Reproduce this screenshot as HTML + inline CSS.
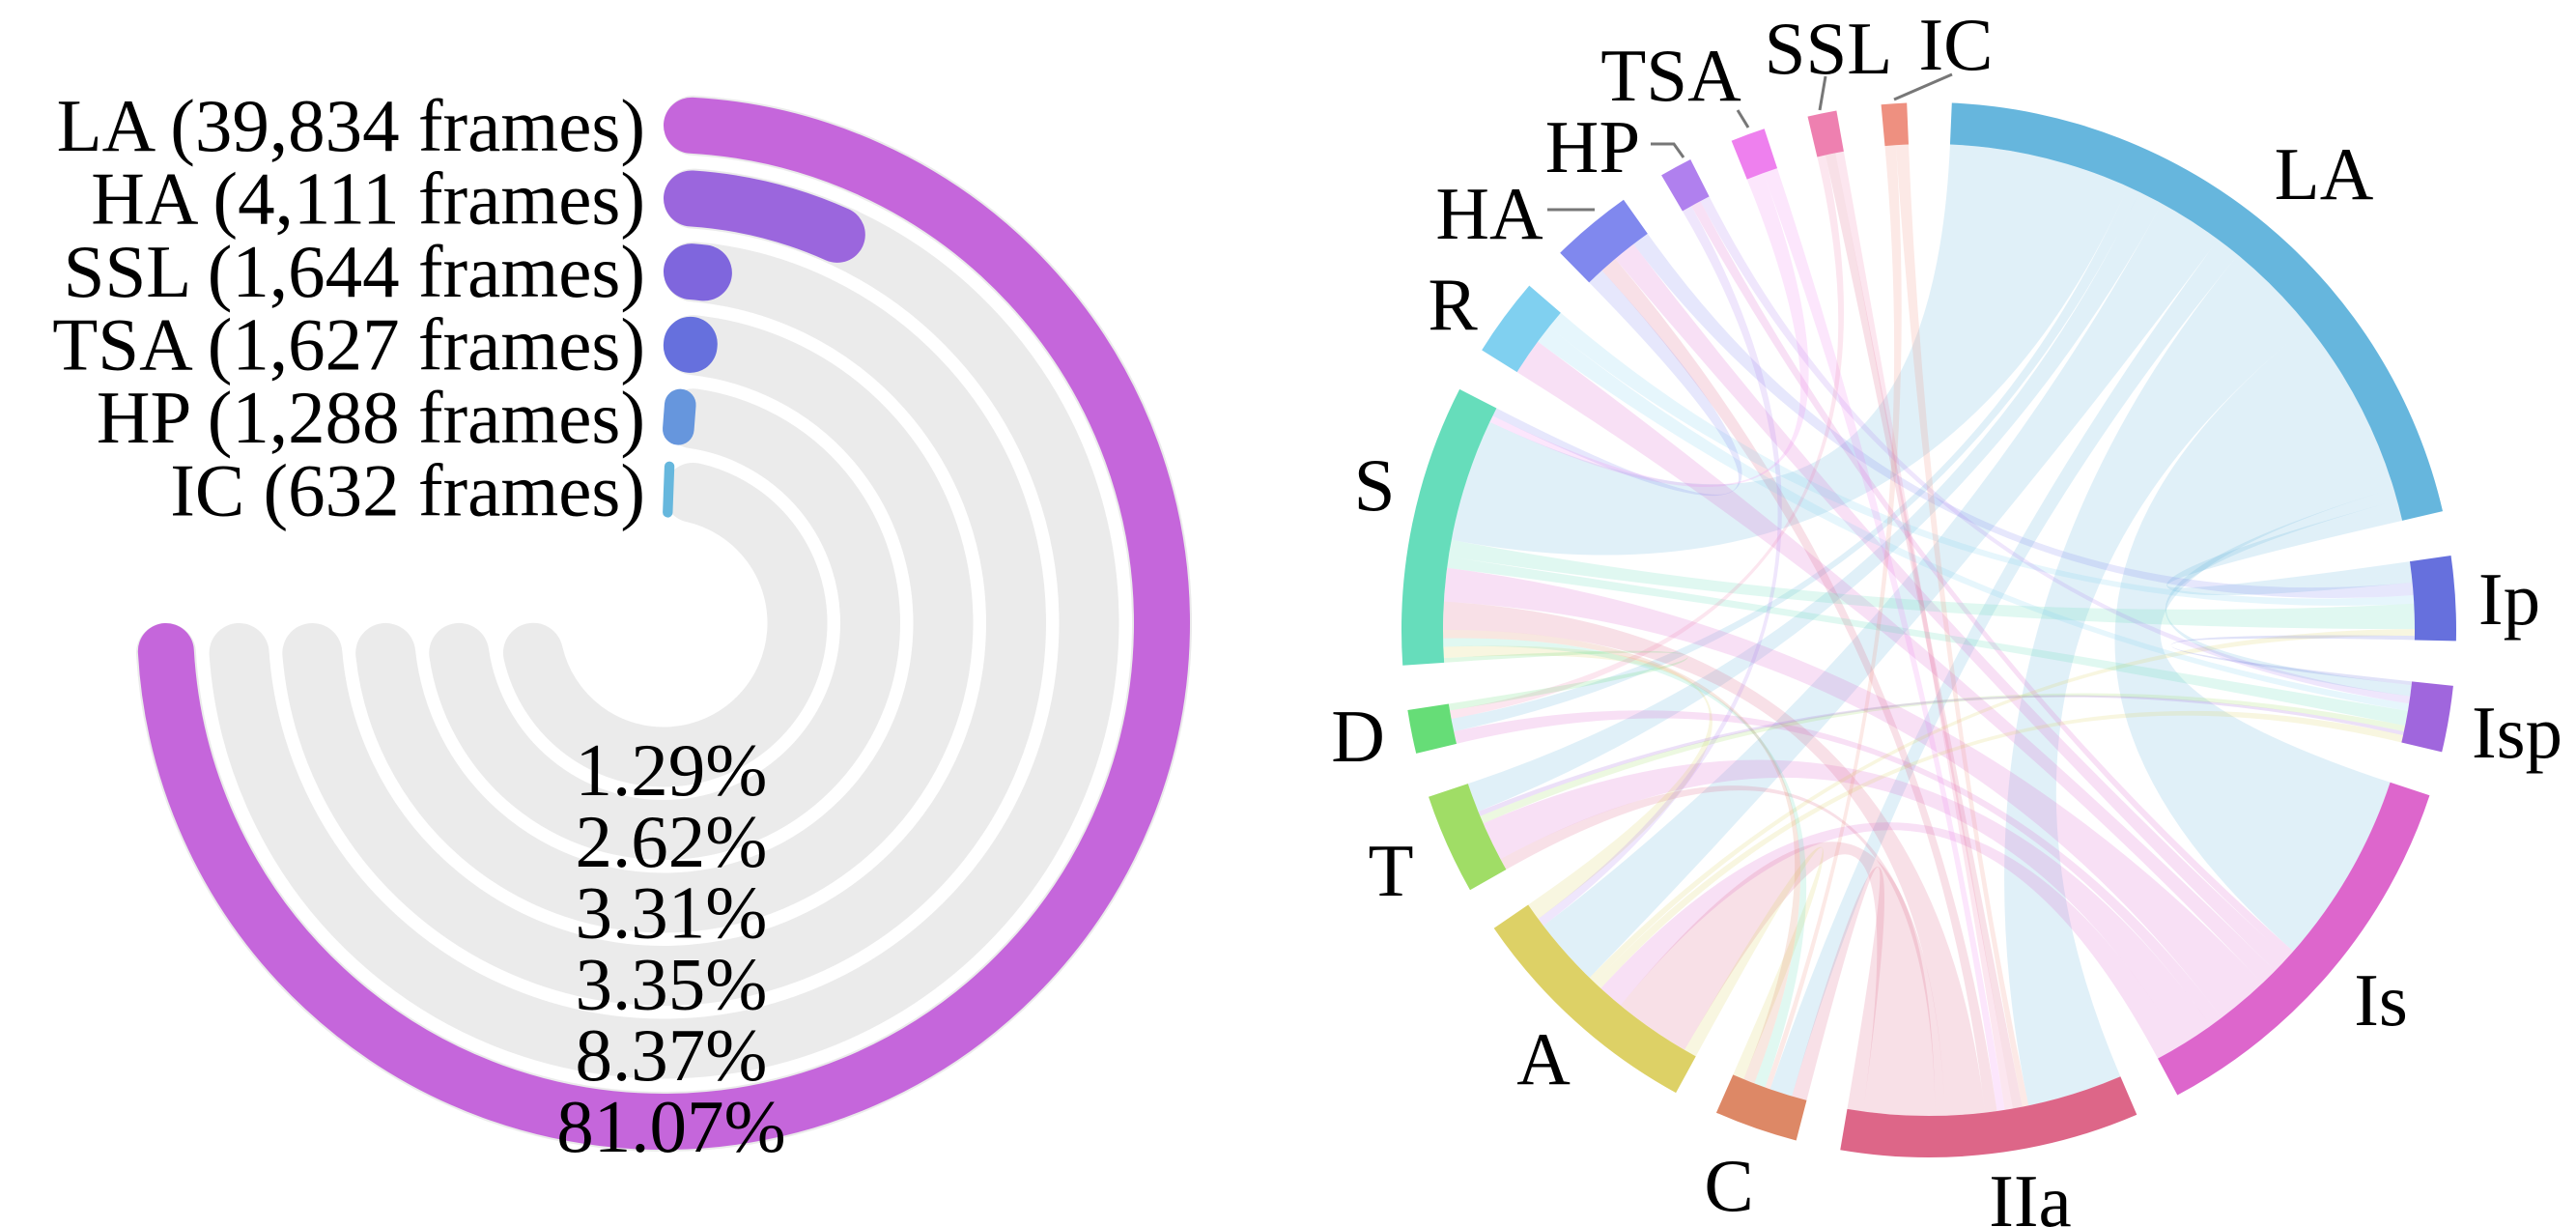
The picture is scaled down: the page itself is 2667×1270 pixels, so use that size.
<!DOCTYPE html>
<html><head><meta charset="utf-8"><style>
html,body{margin:0;padding:0;background:#fff;}
svg{display:block;}
svg text{font-family:"Liberation Serif","Times New Roman","DejaVu Serif",serif;}
</style></head><body>
<svg id="chart" width="2667" height="1270" viewBox="0 0 2667 1270" xmlns="http://www.w3.org/2000/svg" font-family="Liberation Serif, Times New Roman, serif">
<g id="radial"></g>
<g id="chord"></g>
</svg>
<script>
// ---------- Radial bar data ----------
const radialNames = ["LA","HA","SSL","TSA","HP","IC"];
const radialFrames = [39834,4111,1644,1627,1288,632];
const radialPercents = ["81.07%","8.37%","3.35%","3.31%","2.62%","1.29%"];
const radialColors = ["#c566db","#9b66dd","#7f66dd","#6670dd","#6696dd","#66b7dd"];

// ---------- Chord data ----------
const chordGroups = ["LA","Ip","Isp","Is","IIa","C","A","T","D","S","R","HA","HP","TSA","SSL","IC"];
const chordSizes = [74.5,9.3,7.3,43.6,32.9,9.2,26.9,11.1,4.8,31,8.7,9,3.6,3.8,3.2,2.8];
const chordColors = ["#66b6dd","#6670dd","#a066dd","#dd66cc","#dd6688","#dd8866","#ddd166","#a0dd66","#66dd77","#66ddbb","#80d0f0","#8088ee","#b080ee","#ee80ee","#ee80b0","#ee9080"];
const linkSource = ["LA","LA","LA","LA","LA","LA","LA","LA","LA","Is","Is","Is","Is","Is","Is","Is","IIa","IIa","IIa","IIa","IIa","IIa","A","A","A","A","S","S","S","R","R","HA","HA","HP","HP","TSA","TSA","SSL","SSL","IC","IC","T","D","C","Ip","Isp"];
const linkTarget = ["S","Is","IIa","A","C","T","D","Ip","Isp","S","T","A","R","HA","D","HP","A","S","C","HA","SSL","T","C","S","Ip","Isp","Ip","Isp","C","Ip","Isp","Ip","S","Isp","A","S","IIa","IIa","D","IIa","C","Isp","S","S","Isp","T"];
const linkValue = [22,22,12,8,3,3,1.5,2.5,1.5,6,4,3,2,2,1.5,1,9,5,2,1.5,1.2,1.2,1.5,2,0.8,1,3,2,1.5,1,1,1.5,1.5,1,1,1.2,1,1,1,0.8,0.7,0.8,0.8,1.5,0.5,0.5];
const labelPos = {LA:[2406,179],Ip:[2598,619],Isp:[2606,757],Is:[2465,1034],IIa:[2102,1242],C:[1790,1226],A:[1598,1095],T:[1440,900],D:[1406,761],S:[1423,501],R:[1504,314],HA:[1542,220],HP:[1649,151],TSA:[1730,77],SSL:[1893,49],IC:[2025,45]};

const NS="http://www.w3.org/2000/svg";
const FONT='Liberation Serif, Times New Roman, DejaVu Serif, serif';
function mk(tag,attrs,parent){const e=document.createElementNS(NS,tag);for(const k in attrs)e.setAttribute(k,attrs[k]);parent.appendChild(e);return e;}
const rad=d=>d*Math.PI/180;

// ---------- Radial bars ----------
(function(){
  const g=document.getElementById('radial');
  const cx=687, cy=645, r0=516, step=75.5, trackW=62, barW=58, maxDeg=270;
  const maxV=Math.max(...radialFrames);
  const pt=(r,d)=>[cx+r*Math.sin(rad(d)), cy-r*Math.cos(rad(d))];
  function arcPath(r,a0,a1){const p0=pt(r,a0),p1=pt(r,a1);const large=(a1-a0)>180?1:0;return `M${p0[0]},${p0[1]} A${r},${r} 0 ${large} 1 ${p1[0]},${p1[1]}`;}
  radialNames.forEach((n,i)=>{
    const r=r0-i*step;
    const capDeg=(trackW/2)/r*180/Math.PI;
    const t=mk('path',{d:arcPath(r,capDeg,maxDeg-capDeg),fill:'none',stroke:'#ebebeb','stroke-width':trackW,'stroke-linecap':'round'},g);
    
    
  });
  radialNames.forEach((n,i)=>{
    const r=r0-i*step;
    const deg=radialFrames[i]/maxV*maxDeg;
    const len=r*rad(deg);
    let b;
    if(len>=barW){
      const capDeg=(barW/2)/r*180/Math.PI;
      b=mk('path',{d:arcPath(r,capDeg,deg-capDeg),fill:'none',stroke:radialColors[i],'stroke-width':barW,'stroke-linecap':'round'},g);
    } else {
      const mid=deg/2, p=pt(r,mid);
      b=mk('rect',{x:-len/2,y:-barW/2,width:len,height:barW,rx:len/2,ry:Math.min(len/2,barW/2),fill:radialColors[i],transform:`translate(${p[0]},${p[1]}) rotate(${mid})`},g);
    }
    
    
    const lab=mk('text',{x:668,y:cy-r+27,'text-anchor':'end','font-size':77,fill:'#000','font-family':FONT},g);
    lab.textContent=`${n} (${radialFrames[i].toLocaleString('en-US')} frames)`;
    
    
  });
  radialPercents.forEach((p,i)=>{
    const y=1165-i*73.8+27;
    const t=mk('text',{x:695,y:y,'text-anchor':'middle','font-size':77,fill:'#000','font-family':FONT},g);
    t.textContent=p;
    
    
  });
})();

// ---------- Chord ----------
(function(){
  const g=document.getElementById('chord');
  const cx=1997, cy=652, rOut=546, rIn=503, start=2.5;
  const total=chordSizes.reduce((a,b)=>a+b,0);
  const gap=(360-total)/chordGroups.length;
  const pt=(r,d)=>[cx+r*Math.sin(rad(d)), cy-r*Math.cos(rad(d))];
  const groupA={};
  let a=start;
  chordGroups.forEach((n,i)=>{groupA[n]=[a,a+chordSizes[i]];a+=chordSizes[i]+gap;});
  const mid=n=>(groupA[n][0]+groupA[n][1])/2;
  const ends={};chordGroups.forEach(n=>ends[n]=[]);
  linkSource.forEach((s,i)=>{const t=linkTarget[i];ends[s].push({link:i,other:t,v:linkValue[i]});ends[t].push({link:i,other:s,v:linkValue[i]});});
  const pos={};
  chordGroups.forEach(n=>{
    const arr=ends[n];const m=mid(n);
    arr.sort((p,q)=>((mid(q.other)-m+360)%360)-((mid(p.other)-m+360)%360));
    const sum=arr.reduce((s,e)=>s+e.v,0)||1;
    const [a0,a1]=groupA[n];const k=(a1-a0)/sum;let c=a0;
    arr.forEach(e=>{const key=e.link+'_'+n;pos[key]=[c,c+e.v*k];c+=e.v*k;});
  });
  function arcSeg(r,a0,a1){const p1=pt(r,a1);return `A${r},${r} 0 ${(a1-a0)>180?1:0} 1 ${p1[0]},${p1[1]}`;}
  const rib=mk('g',{},g);
  
  
  linkSource.forEach((s,i)=>{
    const t=linkTarget[i];
    const [s0,s1]=pos[i+'_'+s],[t0,t1]=pos[i+'_'+t];
    const ps0=pt(rIn,s0),pt0=pt(rIn,t0);
    const d=`M${ps0[0]},${ps0[1]} ${arcSeg(rIn,s0,s1)} Q${cx},${cy} ${pt0[0]},${pt0[1]} ${arcSeg(rIn,t0,t1)} Q${cx},${cy} ${ps0[0]},${ps0[1]}Z`;
    const p=mk('path',{d:d,fill:chordColors[chordGroups.indexOf(s)],'fill-opacity':0.2},rib);
    
    
  });
  chordGroups.forEach((n,i)=>{
    const [a0,a1]=groupA[n];
    const o0=pt(rOut,a0),i1=pt(rIn,a1);
    const d=`M${o0[0]},${o0[1]} ${arcSeg(rOut,a0,a1)} L${i1[0]},${i1[1]} A${rIn},${rIn} 0 ${(a1-a0)>180?1:0} 0 ${pt(rIn,a0)[0]},${pt(rIn,a0)[1]}Z`;
    const p=mk('path',{d:d,fill:chordColors[i]},g);
    
    
    const lp=labelPos[n];
    const t=mk('text',{x:lp[0],y:lp[1]+27,'text-anchor':'middle','font-size':77,fill:'#000','font-family':FONT},g);
    t.textContent=n;
    
    
  });
  const leaders=[["HA","1602,217 1651,217"],["HP","1709,149 1733,149 1743,163"],["TSA","1799,114 1810,132"],["SSL","1890,79 1884,114"],["IC","2021,77 1961,103"]];
  leaders.forEach(l=>{
    const p=mk('polyline',{points:l[1],fill:'none',stroke:'#777','stroke-width':3},g);
    
    
  });
})();
</script>
</body></html>
